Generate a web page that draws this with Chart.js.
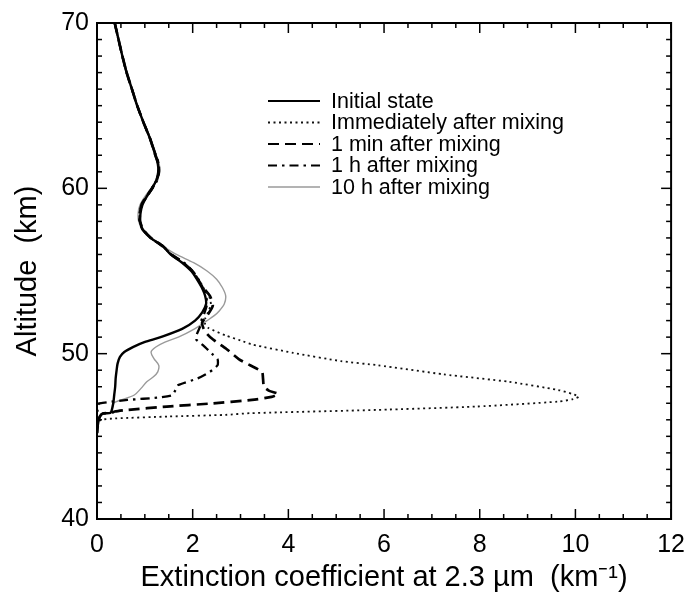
<!DOCTYPE html>
<html><head><meta charset="utf-8">
<script src="https://cdn.jsdelivr.net/npm/chart.js@4/dist/chart.umd.min.js"></script>
<style>html,body{margin:0;padding:0;background:#fff;}</style>
</head><body>
<canvas id="c" width="696" height="593"></canvas>
<script>
// ---- data ----
const seriesLabels = ['Initial state', 'Immediately after mixing', '1 min after mixing', '1 h after mixing', '10 h after mixing'];

const initialAlt = [70,69,68,67,66,65,64,63,62,61.5,61,60.5,60,59.5,59,58.5,58,57.5,57,56.5,56,55.5,55,54.5,54,53.5,53,52.5,52,51.5,51,50.7,50.4,50.1,49.8,49.4,49,48.5,48,47.5,47,46.6,46.42,46.38,46.2,45.9,45.5,45.2];
const initialExt = [0.37,0.45,0.53,0.62,0.73,0.84,0.97,1.11,1.22,1.27,1.28,1.24,1.15,1.04,0.95,0.91,0.9,0.96,1.12,1.38,1.54,1.78,1.97,2.09,2.19,2.26,2.28,2.2,2.05,1.78,1.33,0.99,0.75,0.57,0.48,0.43,0.41,0.39,0.38,0.36,0.34,0.31,0.28,0.12,0.06,0.03,0.01,0];

const immediateAlt = [70,69,68,67,66,65,64,63,62,61.5,61,60.5,60,59.5,59,58.5,58,57.5,57,56.5,56,55.5,55,54.5,54,53.5,53,52.5,52.1,51.8,51.57,51.1,50.8,50.55,50.05,49.55,49.3,48.75,48.3,47.8,47.55,47.4,47.25,47.1,46.8,46.6,46.4,46.3,46.2,46.08,46.0,45.8,45.5,45.2];
const immediateExt = [0.37,0.45,0.53,0.62,0.73,0.84,0.97,1.11,1.22,1.27,1.28,1.24,1.14,1.03,0.94,0.9,0.9,0.96,1.12,1.37,1.55,1.8,1.98,2.1,2.22,2.34,2.38,2.32,2.26,2.26,2.32,2.69,3.0,3.25,4.1,5.1,5.87,7.24,8.61,9.64,9.95,10.07,9.95,9.64,7.92,5.87,3.2,2.69,1.5,0.37,0.08,0.02,0.01,0];

const oneMinAlt = [70,69,68,67,66,65,64,63,62,61.5,61,60.5,60,59.5,59,58.5,58,57.5,57,56.5,56,55.5,55,54.5,54,53.5,52.9,52.3,51.9,51.57,51.2,50.87,50.3,49.66,49.3,48.9,48.5,48,47.75,47.57,47.39,47.2,46.98,46.8,46.6,46.5,46.42,46.38,46.2,45.9,45.5,45.2];
const oneMinExt = [0.37,0.45,0.53,0.62,0.73,0.84,0.97,1.11,1.22,1.28,1.29,1.25,1.15,1.03,0.93,0.9,0.9,0.97,1.13,1.38,1.55,1.8,1.99,2.11,2.22,2.36,2.42,2.3,2.2,2.22,2.3,2.42,2.7,2.97,3.2,3.45,3.47,3.49,3.6,3.79,3.65,3.24,2.36,1.46,0.64,0.37,0.3,0.12,0.06,0.03,0.01,0];

const oneHourAlt = [70,69,68,67,66,65,64,63,62,61.5,61,60.5,60,59.5,59,58.5,58,57.5,57,56.5,56,55.5,55,54.5,54,53.5,53,52.5,52,51.6,51.2,50.87,50.5,50,49.66,49.3,48.9,48.5,48.1,47.8,47.5,47.35,47.2,47.0,46.9,46.5,45.2];
const oneHourExt = [0.37,0.45,0.53,0.62,0.73,0.84,0.97,1.11,1.23,1.29,1.3,1.26,1.16,1.04,0.94,0.89,0.89,0.95,1.12,1.36,1.56,1.82,2.0,2.12,2.21,2.28,2.3,2.25,2.18,2.15,2.09,2.07,2.22,2.4,2.52,2.52,2.36,2.1,1.7,1.64,1.58,1.3,0.64,0.06,0.02,0.01,0];

const tenHourAlt = [70,69,68,67,66,65,64,63,62,61.5,61,60.5,60,59.5,59,58.5,58,57.5,57,56.5,56,55.5,55,54.5,54,53.5,53,52.6,52.3,52,51.5,51,50.7,50.4,50.1,49.7,49.3,48.9,48.6,48.3,47.9,47.5,47.2,47,46.6,46.42,46.38,46.2,45.9,45.5,45.2];
const tenHourExt = [0.37,0.45,0.53,0.62,0.73,0.84,0.97,1.12,1.24,1.3,1.3,1.25,1.13,1.0,0.9,0.86,0.87,0.95,1.1,1.38,1.66,2.02,2.3,2.5,2.62,2.69,2.66,2.56,2.45,2.3,2.04,1.7,1.42,1.23,1.13,1.19,1.29,1.27,1.18,1.04,0.92,0.78,0.5,0.34,0.31,0.28,0.12,0.06,0.03,0.01,0];

const xTickLabels = [0,2,4,6,8,10,12];
const yTickLabels = [40,50,60,70];
const xMinorStep = 0.5;
const yMinorStep = 1;

// ---- chart ----
const FONT = '"Liberation Sans", Arial, Helvetica, sans-serif';
const pts = (alt, ext) => alt.map((a, i) => ({x: ext[i], y: a}));

const datasets = [
  {label: seriesLabels[0], data: pts(initialAlt, initialExt), borderColor: '#000', borderWidth: 2.4, borderDash: [], tension: 0.3},
  {label: seriesLabels[1], data: pts(immediateAlt, immediateExt), borderColor: '#111', borderWidth: 1.8, borderDash: [2, 3.5], tension: 0.2},
  {label: seriesLabels[2], data: pts(oneMinAlt, oneMinExt), borderColor: '#000', borderWidth: 2.7, borderDash: [11, 6], tension: 0.2},
  {label: seriesLabels[3], data: pts(oneHourAlt, oneHourExt), borderColor: '#000', borderWidth: 2.3, borderDash: [9, 5, 2.5, 5], tension: 0.2},
  {label: seriesLabels[4], data: pts(tenHourAlt, tenHourExt), borderColor: '#9a9a9a', borderWidth: 1.4, borderDash: [], tension: 0.3}
].map(d => Object.assign({showLine: true, pointRadius: 0, fill: false}, d));

const framePlugin = {
  id: 'frame',
  afterDatasetsDraw(chart) {
    const {ctx, chartArea: a, scales: {x, y}} = chart;
    ctx.save();
    ctx.strokeStyle = '#000';
    ctx.lineWidth = 1.5;
    ctx.setLineDash([]);
    const seg = (x1, y1, x2, y2) => { ctx.beginPath(); ctx.moveTo(x1, y1); ctx.lineTo(x2, y2); ctx.stroke(); };
    const xmin = xTickLabels[0], xmax = xTickLabels[xTickLabels.length - 1];
    for (let v = xmin; v <= xmax + 1e-9; v += xMinorStep) {
      const px = x.getPixelForValue(v);
      const L = xTickLabels.some(t => Math.abs(t - v) < 1e-6) ? 10 : 5;
      seg(px, a.bottom, px, a.bottom - L);
      seg(px, a.top, px, a.top + L);
    }
    const ymin = yTickLabels[0], ymax = yTickLabels[yTickLabels.length - 1];
    for (let v = ymin; v <= ymax + 1e-9; v += yMinorStep) {
      const py = y.getPixelForValue(v);
      const L = yTickLabels.some(t => Math.abs(t - v) < 1e-6) ? 10 : 5;
      seg(a.left, py, a.left + L, py);
      seg(a.right, py, a.right - L, py);
    }
    ctx.lineWidth = 2;
    ctx.strokeRect(a.left, a.top, a.right - a.left, a.bottom - a.top);

    // legend
    const lx0 = 268, lx1 = 320, tx = 331, ty0 = 101, dy = 21.5;
    ctx.font = '21.5px ' + FONT;
    ctx.textBaseline = 'middle';
    ctx.fillStyle = '#000';
    chart.data.datasets.forEach((d, i) => {
      const yy = ty0 + i * dy;
      ctx.strokeStyle = d.borderColor;
      ctx.lineWidth = Math.min(d.borderWidth, 2);
      ctx.setLineDash(d.borderDash || []);
      seg(lx0, yy, lx1, yy);
      ctx.setLineDash([]);
      ctx.fillText(d.label, tx, yy + 1);
    });
    ctx.restore();
  }
};

new Chart(document.getElementById('c'), {
  type: 'scatter',
  data: {datasets},
  options: {
    responsive: false,
    animation: false,
    devicePixelRatio: 1,
    layout: {padding: {left: 0, right: 14, top: 16, bottom: 0}},
    plugins: {legend: {display: false}, tooltip: {enabled: false}},
    scales: {
      x: {
        type: 'linear', min: 0, max: 12,
        grid: {display: false, drawTicks: false},
        border: {display: false},
        afterBuildTicks: s => { s.ticks = xTickLabels.map(v => ({value: v})); },
        afterFit: s => { s.height = 74; },
        ticks: {color: '#000', font: {family: FONT, size: 25}, padding: 11, maxRotation: 0, autoSkip: false},
        title: {display: true, text: 'Extinction coefficient at 2.3 \u00b5m  (km\u207b\u00b9)', color: '#000',
                font: {family: FONT, size: 29, lineHeight: 1}, padding: {top: 0, bottom: 1}}
      },
      y: {
        type: 'linear', min: 40, max: 70,
        grid: {display: false, drawTicks: false},
        border: {display: false},
        afterBuildTicks: s => { s.ticks = yTickLabels.map(v => ({value: v})); },
        afterFit: s => { s.width = 97; },
        ticks: {color: '#000', font: {family: FONT, size: 25}, padding: 8, autoSkip: false},
        title: {display: true, text: 'Altitude  (km)', color: '#000',
                font: {family: FONT, size: 29, lineHeight: 1}, padding: {top: 13, bottom: 0}}
      }
    }
  },
  plugins: [framePlugin]
});
</script>
</body></html>
